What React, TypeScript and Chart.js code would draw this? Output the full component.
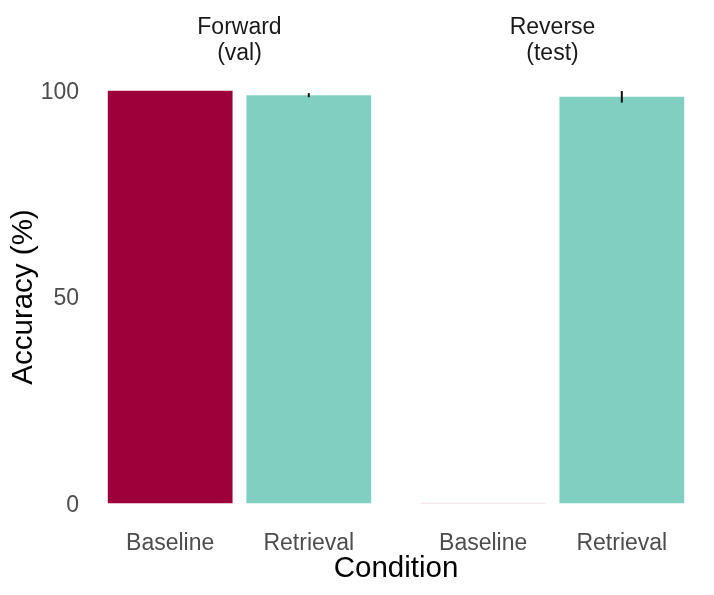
import React, { useEffect, useRef } from "react";
import { Chart, registerables } from "chart.js";

Chart.register(...registerables);

const panels: string[][] = [["Forward", "(val)"], ["Reverse", "(test)"]];
const conditions = ["Baseline", "Retrieval"];
const baselineAcc = [100, 0];
const retrievalAcc = [98.9, 98.5];
const baselineErr = [0, 0];
const retrievalErr = [0.5, 1.4];
const yTicks = [0, 50, 100];

const conditionColors: Record<string, string> = {
  Baseline: "#9E003A",
  Retrieval: "#80CFC1",
};

// layout (in category units): each panel spans 2.2 units, gap between panels
const PANEL_STRIDE = 2.258;
const EXPAND = 0.6;

const FONT = "'Liberation Sans', Arial, Helvetica, sans-serif";

export default function App() {
  const ref = useRef<HTMLCanvasElement | null>(null);

  useEffect(() => {
    if (!ref.current) return;
    document.body.style.margin = "0";

    const points: { x: number; y: number; err: number; cond: string }[] = [];
    panels.forEach((_, p) => {
      points.push({ x: p * PANEL_STRIDE + 0, y: baselineAcc[p], err: baselineErr[p], cond: conditions[0] });
      points.push({ x: p * PANEL_STRIDE + 1, y: retrievalAcc[p], err: retrievalErr[p], cond: conditions[1] });
    });
    const xPositions = points.map((pt) => pt.x);
    const xLabels = points.map((pt) => pt.cond);
    const panelCenters = panels.map((_, p) => p * PANEL_STRIDE + 0.5);
    const xMin = -EXPAND;
    const xMax = (panels.length - 1) * PANEL_STRIDE + 1 + EXPAND;

    const errorBars = {
      id: "errorBars",
      afterDatasetsDraw(chart: any) {
        const { ctx, scales } = chart;
        const x = scales.x;
        const y = scales.y;
        ctx.save();
        ctx.strokeStyle = "#111111";
        ctx.lineWidth = 2;
        points.forEach((pt) => {
          if (!pt.err) return;
          const px = x.getPixelForValue(pt.x);
          ctx.beginPath();
          ctx.moveTo(px, y.getPixelForValue(pt.y - pt.err));
          ctx.lineTo(px, y.getPixelForValue(pt.y + pt.err));
          ctx.stroke();
        });
        ctx.restore();
      },
    };

    const chart = new Chart(ref.current, {
      type: "bar",
      data: {
        datasets: [
          {
            data: points.map((pt) => ({ x: pt.x, y: pt.y })),
            backgroundColor: points.map((pt) =>
              pt.y === 0 ? "rgba(158,0,58,0.12)" : conditionColors[pt.cond]
            ),
            borderWidth: 0,
            minBarLength: 1,
            barPercentage: 0.9,
            categoryPercentage: 1,
          },
        ],
      },
      options: {
        animation: false,
        responsive: false,
        maintainAspectRatio: false,
        layout: { padding: { left: 0, right: 9, top: 0, bottom: 0 } },
        plugins: { legend: { display: false }, tooltip: { enabled: false } },
        scales: {
          x: {
            type: "linear",
            position: "bottom",
            offset: false,
            min: xMin,
            max: xMax,
            grid: { display: false, drawTicks: false, offset: false },
            border: { display: false },
            afterBuildTicks: (scale: any) => {
              scale.ticks = xPositions.map((v) => ({ value: v }));
            },
            afterFit: (scale: any) => {
              scale.height = 71;
            },
            ticks: {
              autoSkip: false,
              maxRotation: 0,
              padding: 6,
              color: "#4D4D4D",
              font: { family: FONT, size: 23 },
              callback: (v: any) => {
                const i = xPositions.findIndex((p) => Math.abs(p - Number(v)) < 1e-6);
                return i >= 0 ? xLabels[i] : "";
              },
            },
            title: {
              display: true,
              text: "Condition",
              color: "#000000",
              font: { family: FONT, size: 29.5 },
              padding: { top: 0, bottom: 8 },
            },
          },
          x2: {
            type: "linear",
            position: "top",
            offset: false,
            min: xMin,
            max: xMax,
            grid: { display: false, drawTicks: false, offset: false },
            border: { display: false },
            afterBuildTicks: (scale: any) => {
              scale.ticks = panelCenters.map((v) => ({ value: v }));
            },
            afterFit: (scale: any) => {
              scale.height = 70;
            },
            ticks: {
              autoSkip: false,
              maxRotation: 0,
              padding: 3,
              color: "#1A1A1A",
              font: { family: FONT, size: 23, lineHeight: 1.15 },
              callback: (v: any) => {
                const i = panelCenters.findIndex((p) => Math.abs(p - Number(v)) < 1e-6);
                return i >= 0 ? panels[i] : "";
              },
            },
          },
          y: {
            type: "linear",
            min: -5,
            max: 105,
            grid: { display: false, drawTicks: false },
            border: { display: false },
            afterBuildTicks: (scale: any) => {
              scale.ticks = yTicks.map((v) => ({ value: v }));
            },
            afterFit: (scale: any) => {
              scale.width = 87;
            },
            ticks: {
              padding: 8,
              labelOffset: 2,
              color: "#4D4D4D",
              font: { family: FONT, size: 23 },
            },
            title: {
              display: true,
              text: "Accuracy (%)",
              color: "#000000",
              font: { family: FONT, size: 29.5 },
              padding: { top: 6, bottom: 0 },
            },
          },
        },
      },
      plugins: [errorBars],
    } as any);

    return () => chart.destroy();
  }, []);

  return (
    <div style={{ position: "absolute", left: 0, top: 0, width: 714, height: 595, background: "#ffffff" }}>
      <canvas ref={ref} width={714} height={595} style={{ width: 714, height: 595 }} />
    </div>
  );
}
